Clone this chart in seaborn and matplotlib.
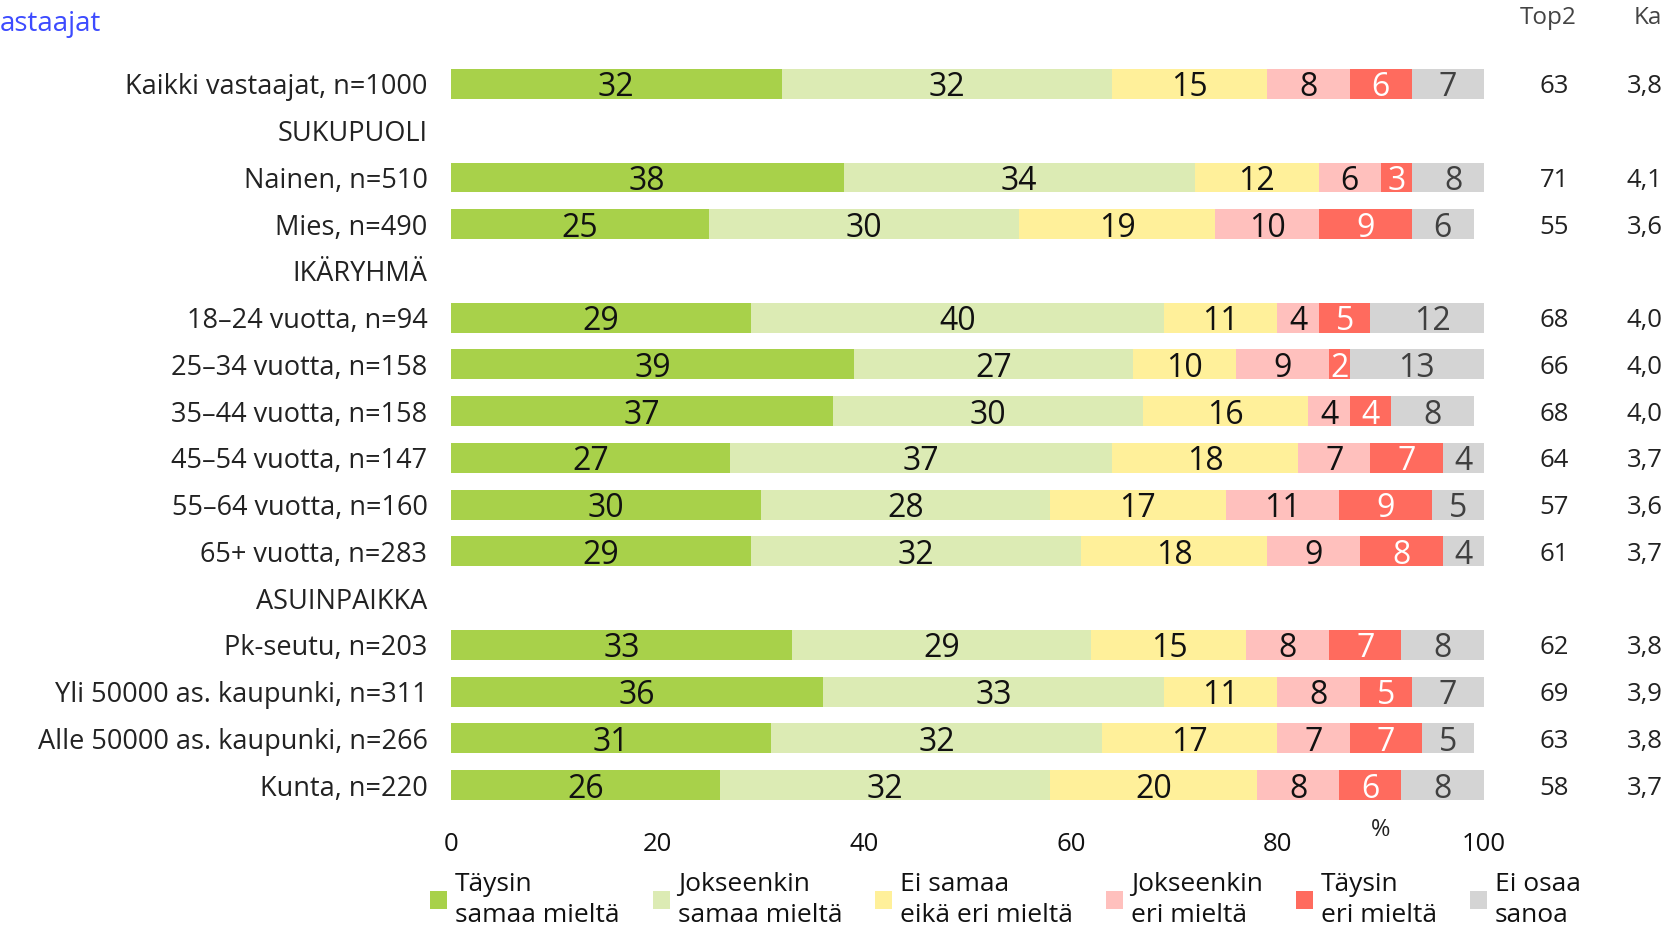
import numpy as np
import pandas as pd
import matplotlib
matplotlib.use("Agg")
import matplotlib.pyplot as plt
from matplotlib.patches import Patch
import seaborn as sns

# --- data ---
ROWS = [
    "Kaikki vastaajat, n=1000", "SUKUPUOLI", "Nainen, n=510", "Mies, n=490",
    "IKÄRYHMÄ", "18–24 vuotta, n=94", "25–34 vuotta, n=158", "35–44 vuotta, n=158",
    "45–54 vuotta, n=147", "55–64 vuotta, n=160", "65+ vuotta, n=283",
    "ASUINPAIKKA", "Pk-seutu, n=203", "Yli 50000 as. kaupunki, n=311",
    "Alle 50000 as. kaupunki, n=266", "Kunta, n=220",
]
HEADERS = {"SUKUPUOLI", "IKÄRYHMÄ", "ASUINPAIKKA"}
GROUPS = [r for r in ROWS if r not in HEADERS]

taysin_samaa = [32, 38, 25, 29, 39, 37, 27, 30, 29, 33, 36, 31, 26]
jokseenkin_samaa = [32, 34, 30, 40, 27, 30, 37, 28, 32, 29, 33, 32, 32]
ei_samaa_eika_eri = [15, 12, 19, 11, 10, 16, 18, 17, 18, 15, 11, 17, 20]
jokseenkin_eri = [8, 6, 10, 4, 9, 4, 7, 11, 9, 8, 8, 7, 8]
taysin_eri = [6, 3, 9, 5, 2, 4, 7, 9, 8, 7, 5, 7, 6]
ei_osaa = [7, 8, 6, 12, 13, 8, 4, 5, 4, 8, 7, 5, 8]
top2 = [63, 71, 55, 68, 66, 68, 64, 57, 61, 62, 69, 63, 58]
ka = ["3,8", "4,1", "3,6", "4,0", "4,0", "4,0", "3,7", "3,6", "3,7", "3,8", "3,9", "3,8", "3,7"]

SERIES = ["Täysin\nsamaa mieltä", "Jokseenkin\nsamaa mieltä", "Ei samaa\neikä eri mieltä",
          "Jokseenkin\neri mieltä", "Täysin\neri mieltä", "Ei osaa\nsanoa"]
COLORS = ["#A8D14A", "#DCEBB4", "#FFF09A", "#FFC0BD", "#FF6B5E", "#D4D4D4"]
TEXT_COLORS = ["#111111", "#111111", "#111111", "#111111", "#FFFFFF", "#404040"]

values = np.array([taysin_samaa, jokseenkin_samaa, ei_samaa_eika_eri,
                   jokseenkin_eri, taysin_eri, ei_osaa]).T
cum = values.cumsum(axis=1)

df = pd.DataFrame(cum, columns=[f"cum{k}" for k in range(6)])
df["row"] = GROUPS

sns.set_theme(style="white")
plt.rcParams["font.family"] = ["Open Sans", "DejaVu Sans"]

fig = plt.figure(figsize=(16.68, 9.27), dpi=100)
ax = fig.add_axes([0.2704, 0.1279, 0.6193, 0.8067])

# stacked bars: draw cumulative totals from the widest down
for k in reversed(range(6)):
    sns.barplot(data=df, x=f"cum{k}", y="row", order=ROWS, color=COLORS[k],
                saturation=1, width=0.64, errorbar=None, linewidth=0,
                orient="h", ax=ax)

ypos = {r: i for i, r in enumerate(ROWS)}
for i, r in enumerate(GROUPS):
    y = ypos[r]
    left = 0
    for k in range(6):
        v = values[i, k]
        ax.text(left + v / 2, y, str(v), ha="center", va="center_baseline",
                fontsize=23, color=TEXT_COLORS[k])
        left += v
    ax.text(106.8, y, str(top2[i]), ha="center", va="center_baseline",
            fontsize=18.5, color="#222222", clip_on=False)
    ax.text(117.3, y, ka[i], ha="right", va="center_baseline",
            fontsize=18.5, color="#222222", clip_on=False)

ax.set_xlim(0, 100)
ax.set_ylim(15.5, -0.5)
ax.set_xlabel("")
ax.set_ylabel("")
ax.set_xticks([0, 20, 40, 60, 80, 100])
ax.tick_params(axis="x", length=0, pad=17, labelsize=18.5, labelcolor="#111111")
ax.tick_params(axis="y", length=0, pad=17, labelsize=19.5, labelcolor="#222222")
sns.despine(ax=ax, left=True, bottom=True)

fig.text(1381 / 1668, 1 - 830 / 927, "%", ha="center", va="center", fontsize=17, color="#222222")
fig.text(1548 / 1668, 1 - 18 / 927, "Top2", ha="center", va="center", fontsize=17.5, color="#444444")
fig.text(1662 / 1668, 1 - 18 / 927, "Ka", ha="right", va="center", fontsize=17.5, color="#444444")
fig.text(0, 1 - 24 / 927, "astaajat", ha="left", va="center", fontsize=20, color="#3D4BFF")

handles = [Patch(facecolor=c, edgecolor="none") for c in COLORS]
fig.legend(handles, SERIES, loc="upper left", bbox_to_anchor=(430 / 1668, 1 - 872 / 927),
           ncol=6, frameon=False, fontsize=19, handlelength=0.65, handleheight=0.65,
           handletextpad=0.3, columnspacing=1.25, borderpad=0, borderaxespad=0,
           labelcolor="#111111", labelspacing=0.5)
for t in fig.legends[0].get_texts():
    t.set_linespacing(1.3)

fig.savefig("out.png", dpi=100)
